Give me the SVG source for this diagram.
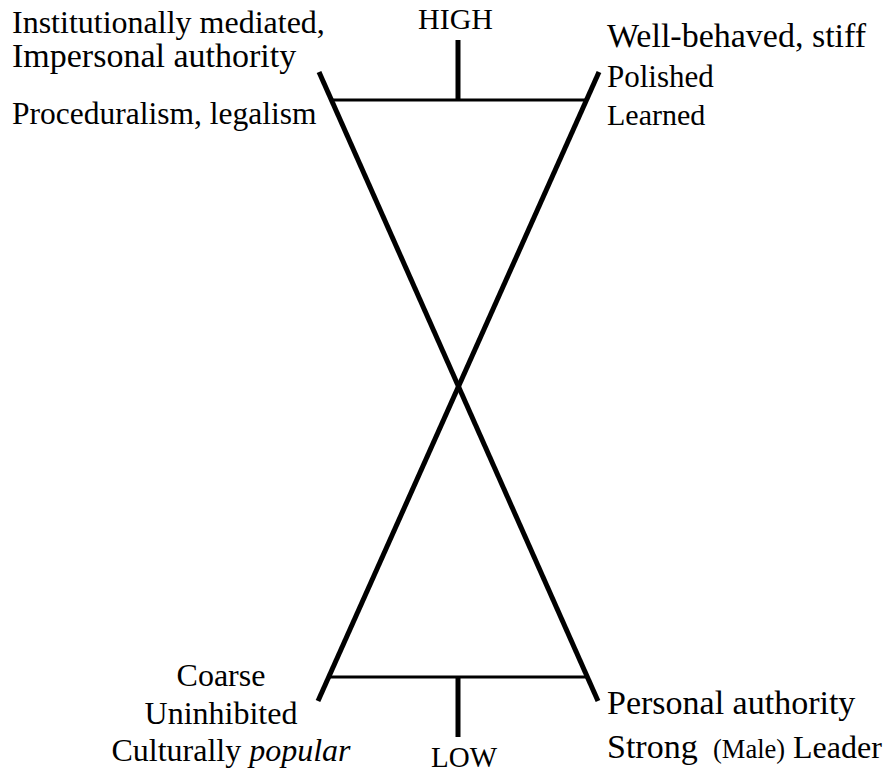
<svg xmlns="http://www.w3.org/2000/svg" width="886" height="772" viewBox="0 0 886 772" font-family="'Liberation Serif', 'Times New Roman', 'DejaVu Serif', serif">
<style>
.diag{stroke:#000;stroke-width:5;fill:none}
.bar{stroke:#000;stroke-width:3;fill:none}
.tick{stroke:#000;stroke-width:5;fill:none}
</style>
<rect width="886" height="772" fill="#fff"/>
<g id="connectors">
<line class="diag" x1="319" y1="72" x2="598" y2="701"/>
<line class="diag" x1="318" y1="701" x2="599" y2="72"/>
<line class="bar" x1="331" y1="100" x2="587" y2="100"/>
<line class="bar" x1="329" y1="677" x2="587" y2="677"/>
<line class="tick" x1="458" y1="40" x2="458" y2="100"/>
<line class="tick" x1="458" y1="677" x2="458" y2="737"/>
</g>
<g id="high"><text x="418" y="29" font-size="30">HIGH</text></g>
<g id="low"><text x="431" y="767" font-size="29">LOW</text></g>
<g id="top-left">
<text x="12" y="33" font-size="32">Institutionally mediated,</text>
<text x="12" y="67" font-size="34">Impersonal authority</text>
<text x="12" y="124" font-size="31.5">Proceduralism, legalism</text>
</g>
<g id="top-right">
<text x="607" y="47" font-size="34">Well-behaved, stiff</text>
<text x="607" y="87" font-size="31">Polished</text>
<text x="607" y="125" font-size="30">Learned</text>
</g>
<g id="bottom-left">
<text x="221" y="686" font-size="32" text-anchor="middle">Coarse</text>
<text x="221" y="724" font-size="32" text-anchor="middle">Uninhibited</text>
<text x="231" y="761" font-size="32" text-anchor="middle">Culturally <tspan font-style="italic">popular</tspan></text>
</g>
<g id="bottom-right">
<text x="607" y="714" font-size="34">Personal authority</text>
<text x="607" y="758" font-size="34">Strong<tspan x="713" font-size="26.5">(Male)</tspan><tspan x="793" font-size="32">Leader</tspan></text>
</g>
</svg>
